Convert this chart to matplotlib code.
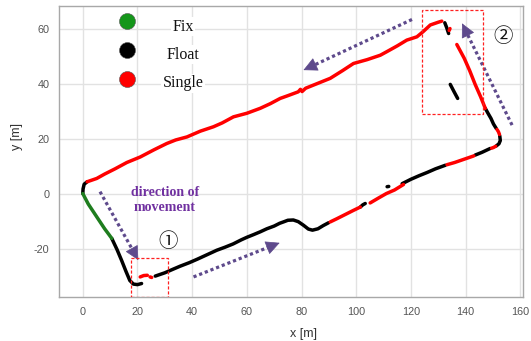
import matplotlib
matplotlib.use("Agg")
import matplotlib.pyplot as plt
from matplotlib.patches import Rectangle

plt.rcParams["axes.unicode_minus"] = False

# ---------------- data ----------------
fix_x = [0, 2, 4, 6, 8, 9.5, 10.6]
fix_y = [0.3, -3.5, -6.5, -9.5, -12.5, -14.5, -16]

float_segments = [
    [(0, 0.3), (0.1, 2), (0.5, 3.7), (1.6, 4.6)],
    [(10.6, -16), (12.5, -20), (14.2, -24), (15.8, -28), (17.2, -31.3), (18.5, -32.6), (20, -32.8), (21.5, -32.4)],
    [(26.5, -29.7), (30, -28.5), (33, -27.2), (35.6, -26.1), (39, -24.8), (42, -23.5), (45.5, -21.9), (49, -20.3),
     (52, -19.2), (55, -18), (58, -16.5), (60, -15.6), (62.5, -14.6), (64.9, -13.6), (67.3, -12.5), (70, -11.5),
     (72, -10.5), (73.4, -10), (75, -9.4), (77, -9.3), (78.8, -9.9), (80.7, -11.2), (82.5, -12.6), (84, -13),
     (86, -12.5), (88, -11.3), (89.9, -10.3)],
    [(101.5, -4.6), (102.4, -3.8), (103.3, -3.3)],
    [(111.3, 2.8), (111.9, 2.9)],
    [(116.8, 3.9), (120, 5.5), (123, 6.8), (126, 8), (129, 9.3), (132.6, 10.6)],
    [(143.5, 14.3), (146, 15.3), (149, 16.7)],
    [(151.2, 17.6), (152.2, 18.4), (152.7, 19.6), (152.5, 21.3)],
    [(151.2, 24), (150.2, 25.6), (149.3, 27.6), (148.2, 29.5), (147.2, 31.3)],
    [(134.4, 40), (135.7, 37.5), (137.1, 34.9)],
    [(132.4, 62.4), (133.1, 60.6), (133.8, 58.5)],
]

single_segments = [
    [(21, -30), (22.3, -29.5), (23.6, -29.4)],
    [(24.6, -30), (25.2, -30.2)],
    [(90.5, -10), (93, -8.8), (96, -7.3), (99, -5.8), (101.5, -4.6)],
    [(105.1, -3.1), (108, -1.4), (111, 0.3), (114, 1.6), (117.3, 3.6)],
    [(133.2, 10.8), (136, 11.6), (139.5, 12.8), (143, 14.0)],
    [(149.5, 16.8), (150.3, 17.1), (151, 17.5)],
    [(152.4, 21.8), (152, 22.8), (151.5, 23.6)],
    [(147.2, 31.3), (145.5, 35.5), (143.5, 40), (141.5, 45), (139.5, 49.5), (136.8, 54.5)],
    [(134, 59.6), (134.3, 60.3)],
    [(131.3, 63), (130, 62.6), (127.1, 61.6), (124.5, 59.2), (122.2, 57.3), (118.5, 56.1), (115, 54),
     (111.2, 51.9), (108.8, 50.6), (104, 49), (99, 47.6), (95, 45), (90.5, 42.2), (85, 40), (81.5, 38.6),
     (80.2, 37.4), (79.6, 38.2), (78.8, 37.3), (75, 35.9), (72.2, 34.9), (68.6, 33), (64.9, 31.3), (60, 29.5),
     (55.1, 28.2), (51, 26), (47.8, 24.6), (43, 23), (38.1, 20.9), (34, 19.8), (30.7, 18.5), (26, 16.2),
     (21, 13.6), (16.1, 11.6), (11.8, 9.3), (8, 7.4), (5.1, 5.8), (1.6, 4.6)],
]

legend_labels = ["Fix", "Float", "Single"]
legend_colors = ["#14961a", "#000000", "#ff0000"]

arrow_tails = [(6.3, 1.0), (40.5, -30.0), (120.4, 63.6), (157.0, 25.2)]
arrow_tips = [(20.3, -23.9), (72.0, -17.6), (80.7, 45.2), (138.7, 62.2)]

boxes = [(17.6, -37.3, 31.0, -23.3), (124.0, 29.1, 146.2, 67.0)]

x_ticks = [0, 20, 40, 60, 80, 100, 120, 140, 160]
y_ticks = [-20, 0, 20, 40, 60]

# ---------------- figure ----------------
W, H = 531, 341
fig = plt.figure(figsize=(W / 100, H / 100), dpi=100)
ax = fig.add_axes([59 / W, 1 - 297 / H, 464 / W, 291 / H])
ax.set_xlim(-8.7, 161)
ax.set_ylim(-37.3, 68.5)

ax.set_xticks(x_ticks)
ax.set_yticks(y_ticks)
ax.tick_params(length=0, labelsize=7.8, labelcolor="#555555", pad=7)
for lab in ax.get_xticklabels() + ax.get_yticklabels():
    lab.set_fontfamily("Liberation Sans")
ax.grid(True, color="#e2e2e2", lw=1.0)
ax.set_axisbelow(True)
for s in ax.spines.values():
    s.set_color("#a8a8a8")
    s.set_linewidth(1.0)

ax.set_xlabel("x [m]", fontsize=9, color="#333333", family="Liberation Sans")
ax.set_ylabel("y [m]", fontsize=9, color="#333333", family="Liberation Sans")
ax.xaxis.set_label_coords(0.526, -0.105)
ax.yaxis.set_label_coords(-0.078, 0.55)

LW = 2.5
for seg in float_segments:
    xs, ys = zip(*seg)
    ax.plot(xs, ys, color="black", lw=LW, solid_capstyle="round", solid_joinstyle="round", zorder=3)
for seg in single_segments:
    xs, ys = zip(*seg)
    ax.plot(xs, ys, color="#ff0000", lw=LW, solid_capstyle="round", solid_joinstyle="round", zorder=3)
ax.plot(fix_x, fix_y, color="#1e7d1e", lw=LW, solid_capstyle="round", zorder=3)

# dotted arrows
purple = "#5e4a8c"
for (tx, ty), (hx, hy) in zip(arrow_tails, arrow_tips):
    dx, dy = hx - tx, hy - ty
    ax.plot([tx, tx + 0.93 * dx], [ty, ty + 0.93 * dy], color=purple, lw=2.3,
            linestyle=(0, (1, 0.9)), dash_capstyle="butt", zorder=4)
    ax.annotate("", xy=(hx, hy), xytext=(hx - 0.12 * dx, hy - 0.12 * dy),
                arrowprops=dict(arrowstyle="-|>,head_length=0.9,head_width=0.45",
                                color=purple, lw=0.5, shrinkA=0, shrinkB=0), zorder=5)

# red dashed boxes
for x0, y0, x1, y1 in boxes:
    ax.add_patch(Rectangle((x0, y0), x1 - x0, y1 - y0, fill=False, edgecolor="#ff2020",
                           lw=0.9, linestyle=(0, (2.5, 1.5)), zorder=5))

# legend-like entries
mk_y = [0.948, 0.849, 0.749]
tx_y = [0.929, 0.832, 0.735]
for lab, col, my, ty in zip(legend_labels, legend_colors, mk_y, tx_y):
    ax.plot([0.147], [my], marker="o", ms=11.5, color=col, mec="#555555", mew=0.4,
            transform=ax.transAxes, zorder=6, clip_on=False)
    ax.text(0.268, ty, lab, transform=ax.transAxes, ha="center", va="center",
            fontsize=11.5, family="Liberation Serif", color="#111111", zorder=6,
            bbox=dict(facecolor="white", edgecolor="none", pad=1))

ax.text(30.1, -2.1, "direction of\nmovement", ha="center", va="center", fontsize=10,
        family="Liberation Serif", fontweight="bold", color="#7030a0", linespacing=1.15, zorder=6)

ax.text(31.1, -17.2, "\u2460", ha="center", va="center", fontsize=14,
        family=["Noto Sans CJK JP", "DejaVu Sans"], color="#111111", zorder=6)
ax.text(153.9, 57.3, "\u2461", ha="center", va="center", fontsize=14,
        family=["Noto Sans CJK JP", "DejaVu Sans"], color="#111111", zorder=6)

fig.savefig("out.png", dpi=100)
